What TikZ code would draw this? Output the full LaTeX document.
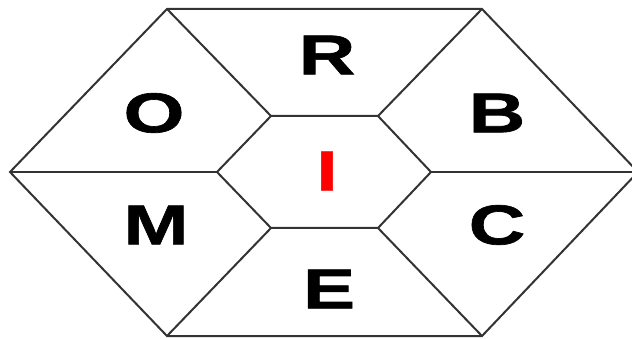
\documentclass[tikz,border=0pt]{standalone}
\usepackage{fontspec}
\setmainfont{Liberation Sans}
\newfontfamily\hexfont[FakeStretch=1.4,FakeBold=1.2]{Liberation Sans}
\begin{document}
\begin{tikzpicture}[x=1pt,y=-1pt,
    hexline/.style={line width=2pt, draw=black!80, line join=miter},
    letter/.style={inner sep=0pt, font=\hexfont\bfseries\fontsize{56}{56}\selectfont}]
    \useasboundingbox (0,0) rectangle (632,339);
    % outer hexagon
    \coordinate (oL) at (10,172);
    \coordinate (oTL) at (167,9);
    \coordinate (oTR) at (482,9);
    \coordinate (oR) at (638,172);
    \coordinate (oBR) at (482,336);
    \coordinate (oBL) at (167,336);
    % inner hexagon
    \coordinate (iL) at (217,172);
    \coordinate (iTL) at (271,116);
    \coordinate (iTR) at (378,116);
    \coordinate (iR) at (431,172);
    \coordinate (iBR) at (378,228);
    \coordinate (iBL) at (271,228);
    \draw[hexline] (oL) -- (oTL) -- (oTR) -- (oR) -- (oBR) -- (oBL) -- cycle;
    \draw[hexline] (iL) -- (iTL) -- (iTR) -- (iR) -- (iBR) -- (iBL) -- cycle;
    \foreach \v in {L,TL,TR,R,BR,BL}
        \draw[hexline] (o\v) -- (i\v);
    % letters
    \node[letter] (r) at (327,55) {R};
    \node[letter] (o) at (154,113) {O};
    \node[letter] (b) at (497,113) {B};
    \node[letter] (m) at (156,225) {M};
    \node[letter] (c) at (497,225) {C};
    \node[letter] (e) at (329,289) {E};
    \node[letter, text=red] (i) at (327,171) {I};
\end{tikzpicture}
\end{document}
